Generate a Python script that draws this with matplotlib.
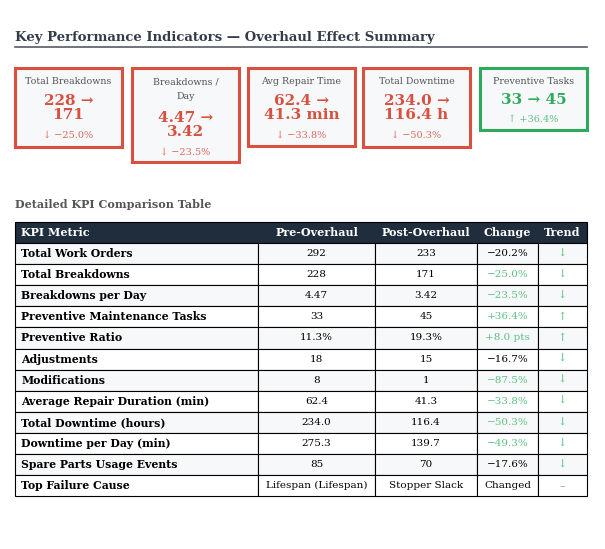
import matplotlib.pyplot as plt
from matplotlib.patches import Rectangle

plt.rcParams['font.family'] = ['DejaVu Serif']

RED = '#d9503f'
GREEN = '#2eaa5c'
LGREEN = '#5cc081'
NAVY = '#1f2d3d'

# KPI cards
card_titles = ['Total Breakdowns', 'Breakdowns /\nDay', 'Avg Repair Time', 'Total Downtime', 'Preventive Tasks']
card_values = ['228 →\n171', '4.47 →\n3.42', '62.4 →\n41.3 min', '234.0 →\n116.4 h', '33 → 45']
card_changes = ['↓ −25.0%', '↓ −23.5%', '↓ −33.8%', '↓ −50.3%', '↑ +36.4%']
card_good = [False, False, False, False, True]

# table
metrics = ['Total Work Orders', 'Total Breakdowns', 'Breakdowns per Day', 'Preventive Maintenance Tasks',
           'Preventive Ratio', 'Adjustments', 'Modifications', 'Average Repair Duration (min)',
           'Total Downtime (hours)', 'Downtime per Day (min)', 'Spare Parts Usage Events', 'Top Failure Cause']
pre = ['292', '228', '4.47', '33', '11.3%', '18', '8', '62.4', '234.0', '275.3', '85', 'Lifespan (Lifespan)']
post = ['233', '171', '3.42', '45', '19.3%', '15', '1', '41.3', '116.4', '139.7', '70', 'Stopper Slack']
change = ['−20.2%', '−25.0%', '−23.5%', '+36.4%', '+8.0 pts', '−16.7%', '−87.5%', '−33.8%',
          '−50.3%', '−49.3%', '−17.6%', 'Changed']
change_good = [False, True, True, True, True, False, True, True, True, True, False, False]
trend = ['↓', '↓', '↓', '↑', '↑', '↓', '↓', '↓', '↓', '↓', '↓', '–']
headers = ['KPI Metric', 'Pre-Overhaul', 'Post-Overhaul', 'Change', 'Trend']


def main():
    fig = plt.figure(figsize=(6.05, 5.49), dpi=100)
    ax = fig.add_axes([0, 0, 1, 1])
    ax.set_xlim(0, 605)
    ax.set_ylim(549, 0)
    ax.axis('off')

    ax.text(15, 38, 'Key Performance Indicators — Overhaul Effect Summary', fontsize=9.5,
            fontweight='bold', color='#333d4a', va='center')
    ax.plot([15, 587], [47, 47], color='#555b66', lw=1.2)

    xs = [15, 132, 248, 363, 480]
    heights = [79, 94, 78, 79, 62]
    for x, t, v, c, g, h in zip(xs, card_titles, card_values, card_changes, card_good, heights):
        col = GREEN if g else RED
        ax.add_patch(Rectangle((x, 68), 107, h, facecolor='#f7f8fa', edgecolor=col, lw=2.2))
        cx = x + 53.5
        ntl = t.count('\n') + 1
        ax.text(cx, 81 + (ntl - 1) * 8.5, t, ha='center', va='center', fontsize=6.8, color='#555',
                linespacing=1.8)
        vy = 81 + (ntl - 1) * 17 + 19
        nvl = v.count('\n') + 1
        ax.text(cx, vy + (nvl - 1) * 8, v, ha='center', va='center', fontsize=11, fontweight='bold',
                color=col, linespacing=0.95)
        ax.text(cx, vy + (nvl - 1) * 16 + 19, c, ha='center', va='center', fontsize=7,
                color='#e0685a' if not g else LGREEN)

    ax.text(15, 205, 'Detailed KPI Comparison Table', fontsize=8, fontweight='bold', color='#555', va='center')

    cols = [15, 258, 375, 477, 538, 587]
    top, hh, rh = 222, 21, 21.1
    ax.add_patch(Rectangle((15, top), 572, hh, facecolor=NAVY, edgecolor='black', lw=0.8))
    for i, hd in enumerate(headers):
        x = cols[i] + 6 if i == 0 else (cols[i] + cols[i + 1]) / 2
        ax.text(x, top + hh / 2, hd, ha='left' if i == 0 else 'center', va='center', fontsize=8,
                fontweight='bold', color='white')
    for r in range(len(metrics)):
        y = top + hh + r * rh
        fc = '#f7f8fa' if r % 2 == 0 else 'white'
        for c in range(5):
            ax.add_patch(Rectangle((cols[c], y), cols[c + 1] - cols[c], rh, facecolor=fc,
                                   edgecolor='black', lw=0.8))
        cy = y + rh / 2
        ax.text(cols[0] + 6, cy, metrics[r], va='center', fontsize=7.8, fontweight='bold', color='black')
        ax.text((cols[1] + cols[2]) / 2, cy, pre[r], ha='center', va='center', fontsize=7.5)
        ax.text((cols[2] + cols[3]) / 2, cy, post[r], ha='center', va='center', fontsize=7.5)
        ax.text((cols[3] + cols[4]) / 2, cy, change[r], ha='center', va='center', fontsize=7.5,
                color=LGREEN if change_good[r] else 'black')
        ax.text((cols[4] + cols[5]) / 2, cy, trend[r], ha='center', va='center', fontsize=8,
                color=LGREEN if trend[r] != '–' else '#999')

    fig.savefig('out.png', dpi=100)


if __name__ == '__main__':
    main()
